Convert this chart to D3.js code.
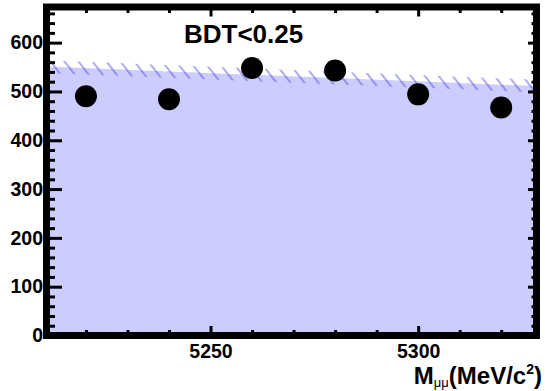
<!DOCTYPE html>
<html>
<head>
<meta charset="utf-8">
<title>BDT plot</title>
<script src="https://d3js.org/d3.v7.min.js"></script>
<style>
  body { margin: 0; background: #fff; }
  text { font-family: "Liberation Sans", Arial, sans-serif; }
</style>
</head>
<body>
<div id="stage"></div>
<script>
// data
var massBins = [5220, 5240, 5260, 5280, 5300, 5320];
var counts = [490, 484, 548, 543, 494, 467];
// background fit (ends of the line) and its error
var bkgMass = [5210.5, 5328.5];
var bkgLevel = [551, 511];
var bkgErr = 13;
var xMajor = [5250, 5300];
var yMajor = [0, 100, 200, 300, 400, 500, 600];

var width = 545, height = 391;
var svg = d3.select("#stage").append("svg")
    .attr("width", width)
    .attr("height", height);

var x = d3.scaleLinear().domain([5210.5, 5328.5]).range([46.5, 536.5]);
var y = d3.scaleLinear().domain([0, 673]).range([335.5, 7]);

var defs = svg.append("defs");
defs.append("clipPath").attr("id", "plotclip")
  .append("rect")
    .attr("x", x.range()[0]).attr("y", y.range()[1])
    .attr("width", x.range()[1] - x.range()[0])
    .attr("height", y.range()[0] - y.range()[1]);

var hatch = defs.append("pattern")
    .attr("id", "hatch")
    .attr("patternUnits", "userSpaceOnUse")
    .attr("width", 11).attr("height", 10)
    .attr("patternTransform", "rotate(-38)");
hatch.append("line")
    .attr("x1", 2).attr("y1", 0).attr("x2", 2).attr("y2", 10)
    .attr("stroke", "#4d4ddb").attr("stroke-width", 1.3).attr("opacity", 0.7);

var bkg = bkgMass.map(function(m, i) { return { m: m, v: bkgLevel[i] }; });
var plot = svg.append("g").attr("clip-path", "url(#plotclip)");

// filled background
plot.append("path")
    .datum(bkg)
    .attr("fill", "#ccccff")
    .attr("d", d3.area()
        .x(function(d) { return x(d.m); })
        .y0(y(0))
        .y1(function(d) { return y(d.v); }));

// hatched error band
plot.append("path")
    .datum(bkg)
    .attr("fill", "url(#hatch)")
    .attr("d", d3.area()
        .x(function(d) { return x(d.m); })
        .y0(function(d) { return y(d.v - bkgErr); })
        .y1(function(d) { return y(d.v + bkgErr); }));

// data points
svg.selectAll(".pt")
    .data(massBins)
    .enter().append("circle")
    .attr("cx", function(d) { return x(d); })
    .attr("cy", function(d, i) { return y(counts[i]); })
    .attr("r", 11)
    .attr("fill", "#000");

// axes: ROOT style, ticks pointing inward
function styleAxis(g) {
  g.select(".domain").remove();
  g.selectAll("line").attr("stroke", "#000").attr("stroke-width", 3);
  g.selectAll("text").attr("fill", "#000").attr("font-size", "19.5px").attr("font-weight", "bold")
    .style("font-family", "'Liberation Sans', Arial, sans-serif");
}
var xMinor = d3.range(5220, 5330, 10).filter(function(v) { return xMajor.indexOf(v) < 0; });
var yMinor = d3.range(20, 673, 20).filter(function(v) { return v % 100 !== 0; });

// bottom
svg.append("g").attr("transform", "translate(0," + y(0) + ")")
  .call(d3.axisBottom(x).tickValues(xMinor).tickSize(-5.5).tickFormat(""))
  .call(styleAxis);
svg.append("g").attr("transform", "translate(0," + y(0) + ")")
  .call(d3.axisBottom(x).tickValues(xMajor).tickSize(-9.5).tickPadding(9).tickFormat(d3.format("d")))
  .call(styleAxis);
// top
svg.append("g").attr("transform", "translate(0," + y.range()[1] + ")")
  .call(d3.axisTop(x).tickValues(xMinor).tickSize(-6).tickFormat(""))
  .call(styleAxis);
svg.append("g").attr("transform", "translate(0," + y.range()[1] + ")")
  .call(d3.axisTop(x).tickValues(xMajor).tickSize(-9.5).tickFormat(""))
  .call(styleAxis);
// left
svg.append("g").attr("transform", "translate(" + x.range()[0] + ",0)")
  .call(d3.axisLeft(y).tickValues(yMinor).tickSize(-8.5).tickFormat(""))
  .call(styleAxis);
svg.append("g").attr("transform", "translate(" + x.range()[0] + ",0)")
  .call(d3.axisLeft(y).tickValues(yMajor).tickSize(-15.5).tickPadding(3.5).tickFormat(d3.format("d")))
  .call(styleAxis);
// right
svg.append("g").attr("transform", "translate(" + x.range()[1] + ",0)")
  .call(d3.axisRight(y).tickValues(yMinor).tickSize(-5).tickFormat(""))
  .call(styleAxis);
svg.append("g").attr("transform", "translate(" + x.range()[1] + ",0)")
  .call(d3.axisRight(y).tickValues(yMajor).tickSize(-8.5).tickFormat(""))
  .call(styleAxis);

// frame
svg.append("rect")
    .attr("x", x.range()[0]).attr("y", y.range()[1])
    .attr("width", x.range()[1] - x.range()[0])
    .attr("height", y.range()[0] - y.range()[1])
    .attr("fill", "none").attr("stroke", "#000").attr("stroke-width", 7);

// title
svg.append("text")
    .attr("x", 184).attr("y", 43)
    .attr("font-size", "26px").attr("font-weight", "bold")
    .text("BDT<0.25");

// axis title
var xt = svg.append("text")
    .attr("x", 542).attr("y", 384)
    .attr("text-anchor", "end")
    .attr("font-size", "24px").attr("font-weight", "bold");
xt.append("tspan").text("M");
xt.append("tspan").attr("font-size", "13px").attr("font-weight", "normal").attr("dy", 3).text("\u03bc\u03bc");
xt.append("tspan").attr("dy", -3).text("(MeV/c");
xt.append("tspan").attr("font-size", "14px").attr("dy", -10).text("2");
xt.append("tspan").attr("dy", 10).text(")");
</script>
</body>
</html>
